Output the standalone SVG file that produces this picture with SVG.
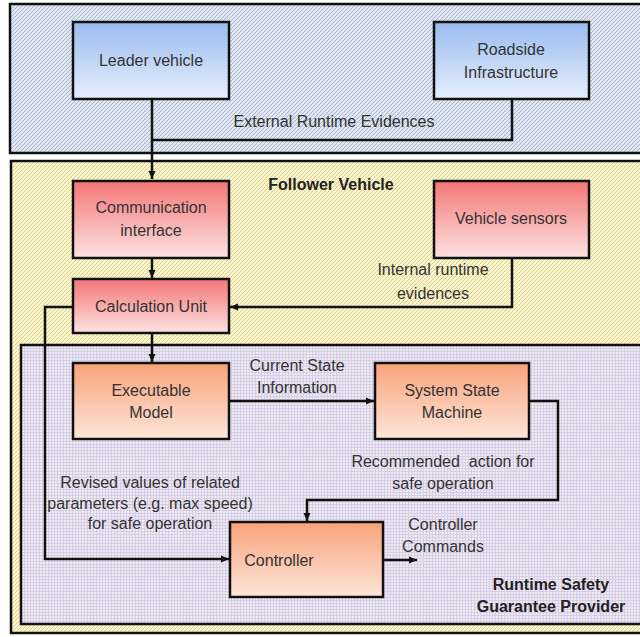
<svg xmlns="http://www.w3.org/2000/svg" width="640" height="637" viewBox="0 0 640 637">
<style>
.box{stroke:#111;stroke-width:2.5}
.cont{stroke:#111;stroke-width:2.5}
.t{font-family:"Liberation Sans","Noto Sans",sans-serif;font-size:16px;fill:#333;text-anchor:middle}
.b{font-weight:bold;fill:#222}
.c{fill:none;stroke:#111;stroke-width:2.5}
</style>
<defs>
<pattern id="pBlue" patternUnits="userSpaceOnUse" width="4" height="4">
<rect width="4" height="4" fill="#dfe6f0"/>
<path d="M-1,1 l2,-2 M0,4 l4,-4 M3,5 l2,-2" stroke="#a9b9d2" stroke-width="1"/>
</pattern>
<pattern id="pYel" patternUnits="userSpaceOnUse" width="4" height="4">
<rect width="4" height="4" fill="#fbf5d0"/>
<path d="M-1,1 l2,-2 M0,4 l4,-4 M3,5 l2,-2" stroke="#ddd18a" stroke-width="1"/>
</pattern>
<pattern id="pLav" patternUnits="userSpaceOnUse" width="3" height="3">
<rect width="3" height="3" fill="#efebf5"/>
<path d="M0,0.5 H3 M0.5,0 V3" stroke="#d6cee4" stroke-width="1"/>
</pattern>
<linearGradient id="gBlue" x1="0" y1="0" x2="0" y2="1">
<stop offset="0" stop-color="#9bbcf0"/><stop offset="1" stop-color="#e6eefb"/>
</linearGradient>
<linearGradient id="gRed" x1="0" y1="0" x2="0" y2="1">
<stop offset="0" stop-color="#f47676"/><stop offset="1" stop-color="#fce2e2"/>
</linearGradient>
<linearGradient id="gOr" x1="0" y1="0" x2="0" y2="1">
<stop offset="0" stop-color="#f9a27a"/><stop offset="1" stop-color="#fde6da"/>
</linearGradient>
<marker id="arr" markerUnits="userSpaceOnUse" markerWidth="9" markerHeight="8" refX="8" refY="4" orient="auto">
<path d="M0,0.5 L8,4 L0,7.5 z" fill="#111"/>
</marker>
</defs>
<rect width="640" height="637" fill="#fff"/>

<g id="external-env">
<rect class="cont" x="10" y="4" width="650" height="149" fill="url(#pBlue)"/>
</g>
<g id="follower-vehicle">
<rect class="cont" x="11" y="161" width="650" height="472" fill="url(#pYel)"/>
<text class="t b" x="331" y="190">Follower Vehicle</text>
</g>
<g id="runtime-safety">
<rect class="cont" x="21" y="345" width="650" height="279" fill="url(#pLav)"/>
<text class="t b" x="551" y="590">Runtime Safety</text>
<text class="t b" x="551" y="612">Guarantee Provider</text>
</g>

<g id="leader-vehicle">
<rect class="box" x="73" y="22" width="156" height="77" fill="url(#gBlue)"/>
<text class="t" x="151" y="66">Leader vehicle</text>
</g>
<g id="roadside-infrastructure">
<rect class="box" x="434" y="22" width="155" height="77" fill="url(#gBlue)"/>
<text class="t" x="511" y="55">Roadside</text>
<text class="t" x="511" y="78">Infrastructure</text>
</g>
<g id="communication-interface">
<rect class="box" x="73" y="181" width="156" height="77" fill="url(#gRed)"/>
<text class="t" x="151" y="213">Communication</text>
<text class="t" x="151" y="236">interface</text>
</g>
<g id="vehicle-sensors">
<rect class="box" x="434" y="181" width="155" height="77" fill="url(#gRed)"/>
<text class="t" x="511" y="224">Vehicle sensors</text>
</g>
<g id="calculation-unit">
<rect class="box" x="73" y="279" width="156" height="54" fill="url(#gRed)"/>
<text class="t" x="151" y="312">Calculation Unit</text>
</g>
<g id="executable-model">
<rect class="box" x="73" y="363" width="156" height="76" fill="url(#gOr)"/>
<text class="t" x="151" y="396">Executable</text>
<text class="t" x="151" y="418">Model</text>
</g>
<g id="system-state-machine">
<rect class="box" x="375" y="363" width="154" height="76" fill="url(#gOr)"/>
<text class="t" x="452" y="396">System State</text>
<text class="t" x="452" y="418">Machine</text>
</g>
<g id="controller">
<rect class="box" x="230" y="522" width="153" height="75" fill="url(#gOr)"/>
<text class="t" x="279" y="566">Controller</text>
</g>

<g id="connectors">
<path class="c" d="M152,99 V179" marker-end="url(#arr)"/>
<path class="c" d="M512,99 V140 H152"/>
<path class="c" d="M152,258 V278" marker-end="url(#arr)"/>
<path class="c" d="M512,258 V307 H230" marker-end="url(#arr)"/>
<path class="c" d="M152,333 V362" marker-end="url(#arr)"/>
<path class="c" d="M229,401 H374" marker-end="url(#arr)"/>
<path class="c" d="M529,401 H558 V500 H307 V521" marker-end="url(#arr)"/>
<path class="c" d="M73,307 H45 V559 H229" marker-end="url(#arr)"/>
<path class="c" d="M383,560 H417" marker-end="url(#arr)"/>
<text class="t" x="334" y="127">External Runtime Evidences</text>
<text class="t" x="433" y="275">Internal runtime</text>
<text class="t" x="433" y="299">evidences</text>
<text class="t" x="297" y="371">Current State</text>
<text class="t" x="297" y="393">Information</text>
<text class="t" x="443" y="467" xml:space="preserve">Recommended  action for</text>
<text class="t" x="443" y="489">safe operation</text>
<text class="t" x="150" y="488">Revised values of related</text>
<text class="t" x="150" y="509">parameters (e.g. max speed)</text>
<text class="t" x="150" y="529">for safe operation</text>
<text class="t" x="443" y="530">Controller</text>
<text class="t" x="443" y="552">Commands</text>
</g>
</svg>
